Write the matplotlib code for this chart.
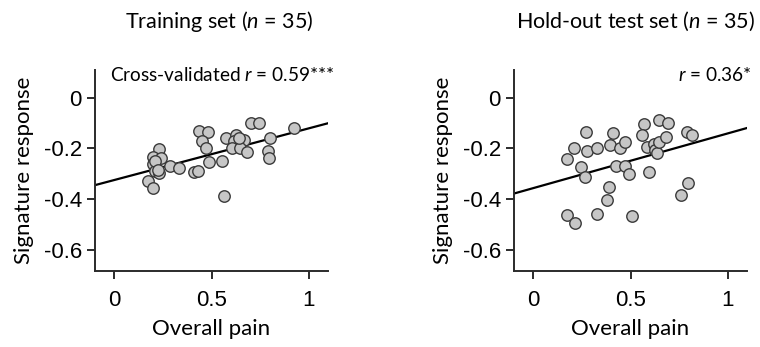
import matplotlib
matplotlib.use("Agg")
import matplotlib.pyplot as plt
import numpy as np

# Training set: overall pain vs. signature response
train_pain = [0.228, 0.199, 0.240, 0.199, 0.211, 0.228, 0.171, 0.199, 0.210, 0.222,
              0.288, 0.331, 0.408, 0.429, 0.434, 0.480, 0.453, 0.470, 0.489, 0.554,
              0.563, 0.576, 0.628, 0.618, 0.665, 0.606, 0.648, 0.683, 0.703, 0.746,
              0.799, 0.789, 0.796, 0.923, 0.640]
train_resp = [-0.204, -0.233, -0.240, -0.260, -0.289, -0.297, -0.328, -0.355, -0.250, -0.285,
              -0.270, -0.276, -0.294, -0.291, -0.130, -0.134, -0.171, -0.198, -0.253, -0.249,
              -0.389, -0.158, -0.148, -0.171, -0.167, -0.200, -0.200, -0.216, -0.101, -0.098,
              -0.157, -0.210, -0.237, -0.119, -0.160]

# Hold-out test set
test_pain = [0.172, 0.215, 0.172, 0.211, 0.244, 0.266, 0.271, 0.278, 0.329, 0.329,
             0.381, 0.390, 0.395, 0.412, 0.426, 0.446, 0.472, 0.472, 0.494, 0.506,
             0.571, 0.561, 0.584, 0.597, 0.621, 0.626, 0.635, 0.648, 0.646, 0.683,
             0.695, 0.759, 0.795, 0.789, 0.815]
test_resp = [-0.464, -0.497, -0.243, -0.198, -0.273, -0.313, -0.137, -0.211, -0.198, -0.460,
             -0.405, -0.352, -0.185, -0.138, -0.270, -0.198, -0.174, -0.270, -0.303, -0.467,
             -0.105, -0.148, -0.194, -0.295, -0.183, -0.207, -0.220, -0.174, -0.088, -0.154,
             -0.101, -0.385, -0.336, -0.137, -0.148]

# Fitted lines (intercept, slope)
train_fit = (-0.325, 0.204)
test_fit = (-0.357, 0.216)

titles = ["Training set ($\\it{n}$ = 35)", "Hold-out test set ($\\it{n}$ = 35)"]
stats = ["Cross-validated $\\it{r}$ = 0.59***", "$\\it{r}$ = 0.36*"]
xticks = [0, 0.5, 1]
xticklabels = ["0", "0.5", "1"]
yticks = [0, -0.2, -0.4, -0.6]
yticklabels = ["0", "-0.2", "-0.4", "-0.6"]

label_font = "Lato"
tick_font = "Liberation Sans"
plt.rcParams["mathtext.fontset"] = "custom"
plt.rcParams["mathtext.it"] = "Lato:italic"
plt.rcParams["mathtext.rm"] = "Lato"

W, H = 760, 347
fig = plt.figure(figsize=(W / 100, H / 100), dpi=100)

panels = [
    (95, train_pain, train_resp, train_fit, 219, 1.03),
    (514, test_pain, test_resp, test_fit, 635, 1.021),
]

spine_col = "#2b2b2b"
for i, (left_px, px, py, fit, title_x, stat_x) in enumerate(panels):
    ax = fig.add_axes([left_px / W, 1 - 271 / H, 233 / W, 201 / H])
    ax.set_xlim(-0.1, 1.1)
    ax.set_ylim(-0.685, 0.11)
    xs = np.array(ax.get_xlim())
    ax.plot(xs, fit[0] + fit[1] * xs, color="black", lw=1.6, zorder=2)
    ax.scatter(px, py, s=68, facecolor="#c6c6c6", edgecolor="#3a3a3a",
               linewidths=1.0, zorder=3)
    for s in ("top", "right"):
        ax.spines[s].set_visible(False)
    for s in ("left", "bottom"):
        ax.spines[s].set_color(spine_col)
        ax.spines[s].set_linewidth(1.4)
    ax.tick_params(direction="out", length=5.5, width=1.4, color=spine_col)
    ax.tick_params(axis="x", pad=8)
    ax.tick_params(axis="y", pad=4)
    ax.set_xticks(xticks)
    ax.set_xticklabels(xticklabels, fontsize=16, family=tick_font)
    ax.set_yticks(yticks)
    ax.set_yticklabels(yticklabels, fontsize=16, family=tick_font)
    ax.set_xlabel("Overall pain", fontsize=16, family=label_font, labelpad=6)
    ax.set_ylabel("Signature response", fontsize=16, family=label_font,
                  labelpad=7)
    ax.text(stat_x, (271 - 80.7) / 201, stats[i], transform=ax.transAxes,
            ha="right", va="baseline", fontsize=13.7, family=label_font)
    fig.text(title_x / W, 1 - 28.3 / H, titles[i], ha="center",
             va="baseline", fontsize=15.5, family=label_font)

fig.savefig("out.png", dpi=100)
